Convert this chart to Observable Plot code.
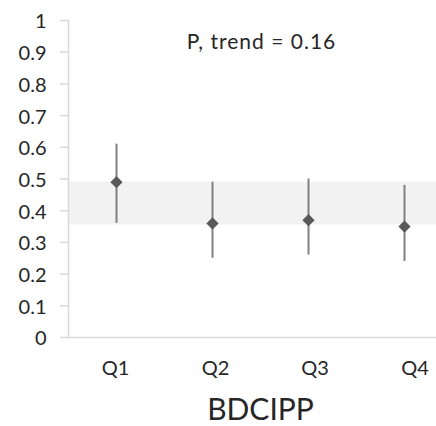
<!DOCTYPE html>
<html>
<head>
<meta charset="utf-8">
<script src="https://cdn.jsdelivr.net/npm/d3@7"></script>
<script src="https://cdn.jsdelivr.net/npm/@observablehq/plot@0.6"></script>
<style>
  html, body { margin: 0; padding: 0; background: #fff; }
  #chart svg { display: block; }
</style>
</head>
<body>
<div id="chart"></div>
<script>
const quartiles = ["Q1", "Q2", "Q3", "Q4"];
const estimate = [0.49, 0.36, 0.37, 0.35];
const lower = [0.36, 0.25, 0.26, 0.24];
const upper = [0.61, 0.49, 0.50, 0.48];
const bandLow = 0.355;
const bandHigh = 0.49;
const yTicks = [0, 0.1, 0.2, 0.3, 0.4, 0.5, 0.6, 0.7, 0.8, 0.9, 1];
const annotation = "P, trend = 0.16";
const axisTitle = "BDCIPP";

// layout-only: small horizontal nudges of the category labels, as in the reference
const labelNudge = [-1, 3, 6.5, 10.5];

const rows = quartiles.map((q, i) => ({q, est: estimate[i], lo: lower[i], hi: upper[i]}));

const ink = "#262626";

const chart = Plot.plot({
  width: 436,
  height: 426,
  marginLeft: 68,
  marginRight: 0,
  marginTop: 20,
  marginBottom: 89,
  style: {fontFamily: "Lato", color: ink, background: "#fff"},
  x: {type: "band", domain: quartiles, range: [68, 452], padding: 0, axis: null},
  y: {domain: [0, 1], axis: null},
  marks: [
    Plot.rectY([{y1: bandLow, y2: bandHigh}], {y1: "y1", y2: "y2", fill: "#f2f2f2"}),
    Plot.ruleY([0], {stroke: "#d9d9d9", strokeWidth: 1.5}),
    Plot.frame({anchor: "left", stroke: "#d9d9d9", strokeWidth: 1.5}),
    Plot.axisY({ticks: yTicks, tickSize: 8, text: null, stroke: "#d9d9d9", strokeWidth: 1.5, label: null}),
    Plot.axisY({ticks: yTicks, tickFormat: d => String(d), tickSize: 0, tickPadding: 22, dy: 1.5, fontSize: 20, fill: ink, label: null}),
    ...quartiles.map((q, i) => Plot.text([q], {x: d => d, frameAnchor: "bottom", lineAnchor: "bottom", dy: 37, dx: labelNudge[i], fontSize: 20, fill: ink})),
    Plot.ruleX(rows, {x: "q", y1: "lo", y2: "hi", stroke: "#808080", strokeWidth: 2}),
    Plot.dot(rows, {x: "q", y: "est", symbol: "diamond2", fill: "#595959", stroke: "none", r: 5.5}),
    Plot.text([{label: annotation, y: 0.93}], {y: "y", text: "label", dx: 9, fontSize: 21, fill: ink}),
    Plot.text([axisTitle], {frameAnchor: "bottom", lineAnchor: "bottom", dy: 82, dx: 8, fontSize: 30, fill: ink})
  ]
});
document.getElementById("chart").append(chart);
chart.querySelectorAll("text").forEach(t => {
  if (t.textContent === annotation) t.style.letterSpacing = "1px";
});
</script>
</body>
</html>
